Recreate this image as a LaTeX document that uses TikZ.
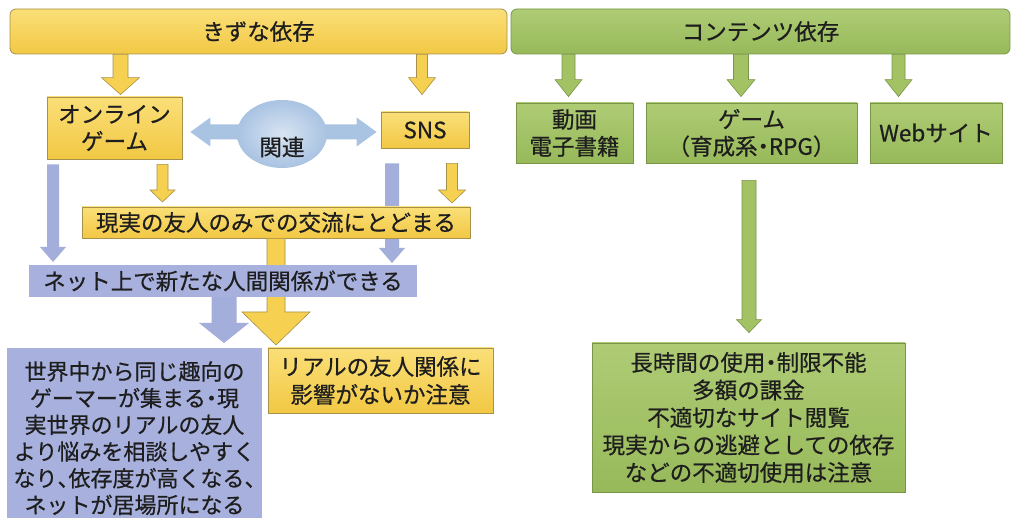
\documentclass[tikz,border=0pt]{standalone}
\usepackage{fontspec}
\setmainfont{Noto Sans CJK JP}[FakeBold=0.6]
\newfontfamily\halffont{Noto Sans CJK JP}[RawFeature=+halt,FakeBold=0.6]
\newcommand\hw[1]{{\halffont #1}}
\usetikzlibrary{shapes.geometric,calc}
\definecolor{txt}{HTML}{1E1E1E}
\definecolor{yel}{HTML}{F6D050}
\definecolor{yeltop}{HTML}{FADF78}
\definecolor{yelbot}{HTML}{F2C844}
\definecolor{yelline}{HTML}{A8914A}
\definecolor{grn}{HTML}{A2C264}
\definecolor{grntop}{HTML}{AFCC75}
\definecolor{grnbot}{HTML}{97B95A}
\definecolor{grnline}{HTML}{789548}
\definecolor{blu}{HTML}{A8B1DE}
\definecolor{bluarrow}{HTML}{A4AEDB}
\definecolor{lblue}{HTML}{A9C3E2}
\newcommand\blockarrow[6]{%
  \path[#1] let \p1=(#2), \p2=(#3) in
    (\x1-#4,\y1) -- (\x1+#4,\y1) -- (\x1+#4,\y2+#6) -- (\x1+#5,\y2+#6)
    -- (\x1,\y2) -- (\x1-#5,\y2+#6) -- (\x1-#4,\y2+#6) -- cycle;}
\tikzset{
  fnt/.style={font=\fontsize{22.5}{27}\selectfont, text=txt},
  ybox/.style={fnt, rectangle, draw=yelline, line width=0.8pt, top color=yeltop, bottom color=yelbot, inner sep=0pt, align=center},
  gbox/.style={fnt, rectangle, draw=grnline, line width=0.8pt, top color=grntop, bottom color=grnbot, inner sep=0pt, align=center},
  bbox/.style={fnt, rectangle, fill=blu, inner sep=0pt, align=center},
  yarr/.style={fill=yel, draw=yelline, line width=0.6pt},
  garr/.style={fill=grn, draw=grnline, line width=0.6pt},
  barr/.style={fill=bluarrow},
}
\begin{document}
\begin{tikzpicture}[x=1pt,y=-1pt]
\useasboundingbox (0,0) rectangle (1013,518);
\fill[white] (0,0) rectangle (1013,518);

% top bars
\node[ybox, rounded corners=6pt, minimum width=497pt, minimum height=45pt] (kizuna) at (258.5,31.5) {きずな依存};
\node[gbox, rounded corners=6pt, minimum width=499pt, minimum height=45pt] (content) at (760.5,31.5) {コンテンツ依存};

% left boxes
\node[ybox, minimum width=135pt, minimum height=62pt] (game) at (114.5,128) {オンライン\\ゲーム};
\node[ybox, minimum width=88pt, minimum height=36pt] (sns) at (425,130) {SNS};

% relation double arrow and ellipse
\coordinate (dl) at ([xshift=8pt]game.east |- 0,132);
\coordinate (dr) at ([xshift=-4pt]sns.west |- 0,132);
\path[fill=lblue] let \p1=(dl), \p2=(dr) in
  (\x1,\y1) -- (\x1+20pt,\y1+14.5pt) -- (\x1+20pt,\y1+7.5pt) -- (\x2-20pt,\y1+7.5pt)
  -- (\x2-20pt,\y1+14.5pt) -- (\x2,\y1) -- (\x2-20pt,\y1-14.5pt) -- (\x2-20pt,\y1-7.5pt)
  -- (\x1+20pt,\y1-7.5pt) -- (\x1+20pt,\y1-14.5pt) -- cycle;
\node[ellipse, minimum width=90pt, minimum height=68pt, inner sep=0pt, shading=radial, inner color=lblue!45!white, outer color=lblue,
  label={[fnt, yshift=-13pt]center:関連}] (kanren) at (282,134) {};

% blue thin arrows (behind yellow box)
\blockarrow{barr}{[yshift=-5pt]game.south -| 53,0}{53,262}{6pt}{13pt}{15pt}
\blockarrow{barr}{[yshift=-15pt]sns.south -| 392,0}{392,263}{7pt}{13pt}{15pt}

% small yellow arrows
\blockarrow{yarr}{[yshift=-5pt]game.south -| 162.5,0}{162.5,202}{5.5pt}{12.5pt}{12pt}
\blockarrow{yarr}{[yshift=-15pt]sns.south -| 452,0}{452,203}{5.5pt}{13.5pt}{13pt}

% top yellow arrows
\blockarrow{yarr}{kizuna.south -| 120.5,0}{[yshift=2pt]game.north -| 120.5,0}{7.5pt}{19pt}{17pt}
\blockarrow{yarr}{kizuna.south -| 422,0}{[yshift=17pt]sns.north -| 422,0}{5.5pt}{13.5pt}{17pt}

% middle boxes
\node[ybox, minimum width=388pt, minimum height=31pt] (genjitsu) at (276,222.5) {現実の友人のみでの交流にとどまる};

% big arrows
\blockarrow{barr}{224,290}{224,343}{12.5pt}{25pt}{20pt}
\blockarrow{yarr}{genjitsu.south -| 276,0}{276,345}{9pt}{34pt}{33pt}

\node[bbox, minimum width=388pt, minimum height=32pt] (net) at (223,281) {ネット上で新たな人間関係ができる};

% bottom-left boxes
\node[bbox, anchor=north, minimum width=255pt, minimum height=180pt, inner ysep=9pt, font=\fontsize{22}{26.7}\selectfont] (world) at (134.5,348)
  {世界中から同じ趣向の\\ゲーマーが集まる\hw{・}現\\実世界のリアルの友人\\より悩みを相談しやすく\\なり\hw{、}依存度が高くなる\hw{、}\\ネットが居場所になる};
\node[ybox, minimum width=225pt, minimum height=65pt, font=\fontsize{22.5}{28}\selectfont] (real) at (380.5,380.5) {リアルの友人関係に\\影響がないか注意};

% right side
\node[gbox, minimum width=117pt, minimum height=60pt] (douga) at (574.5,133) {動画\\電子書籍};
\node[gbox, minimum width=211pt, minimum height=60pt] (gamebox) at (751.5,133) {ゲーム\\（育成系\hw{・}RPG）};
\node[gbox, minimum width=132pt, minimum height=60pt] (web) at (936,133) {Webサイト};

\blockarrow{garr}{content.south -| 568.5,0}{[yshift=6pt]douga.north -| 568.5,0}{6.5pt}{13.5pt}{17pt}
\blockarrow{garr}{content.south -| 741,0}{[yshift=6pt]gamebox.north -| 741,0}{7.5pt}{14pt}{17pt}
\blockarrow{garr}{content.south -| 898.5,0}{[yshift=6pt]web.north -| 898.5,0}{6.5pt}{13.5pt}{17pt}

\node[gbox, minimum width=313pt, minimum height=149pt, font=\fontsize{22.5}{27.5}\selectfont] (issue) at (748.5,417.5)
  {長時間の使用\hw{・}制限不能\\多額の課金\\不適切なサイト閲覧\\現実からの逃避としての依存\\などの不適切使用は注意};
\blockarrow{garr}{[yshift=-17pt]gamebox.south -| 749,0}{[yshift=10pt]issue.north -| 749,0}{7pt}{12.5pt}{13pt}
\end{tikzpicture}
\end{document}
